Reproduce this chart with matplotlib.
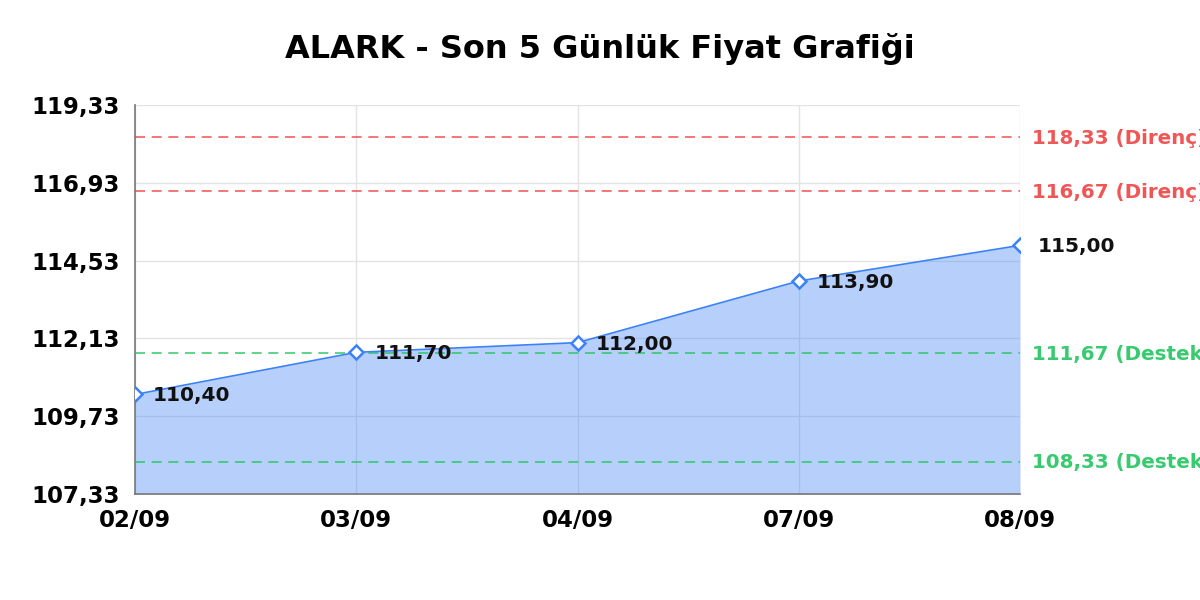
import matplotlib
matplotlib.use("Agg")
import matplotlib.pyplot as plt

# donnees du graphique
dates = ["02/09", "03/09", "04/09", "07/09", "08/09"]
fiyat = [110.40, 111.70, 112.00, 113.90, 115.00]
direnc = [118.33, 116.67]
destek = [111.67, 108.33]
y_ticks = [107.33, 109.73, 112.13, 114.53, 116.93, 119.33]

def virgul(v):
    return ("%.2f" % v).replace(".", ",")

plt.rcParams['font.family'] = ['DejaVu Sans']
fig = plt.figure(figsize=(12, 6), dpi=100)
ax = fig.add_axes([135/1200, 1-494/600, (1020-135)/1200, (494-105)/600])

x = list(range(len(dates)))
ax.fill_between(x, fiyat, y_ticks[0], color="#3b82f6", alpha=0.37, linewidth=0, zorder=2)
ax.plot(x, fiyat, color="#3b82f6", linewidth=1.2, marker="D", markersize=7.5,
        markerfacecolor="white", markeredgecolor="#3b82f6", markeredgewidth=1.8, zorder=5)

for xi, v in zip(x, fiyat):
    ax.annotate(virgul(v), (xi, v), xytext=(13, -1), textcoords="offset points",
                va="center", ha="left", fontsize=14.5, fontweight="bold", color="#111111", zorder=6)

# lignes de direnc / destek, etiquettes coupees au bord comme l'original
for v in direnc:
    ax.axhline(v, color="#ef4444", linestyle=(0, (6, 4)), linewidth=1.2, alpha=0.85, zorder=3)
    ax.annotate(virgul(v) + " (Direnç)", (4, v), xytext=(9, -1), textcoords="offset points",
                va="center", ha="left", fontsize=14.3, fontweight="bold", color="#ef4444",
                alpha=0.9, annotation_clip=False)
for v in destek:
    ax.axhline(v, color="#22c55e", linestyle=(0, (6, 4)), linewidth=1.2, alpha=0.85, zorder=3)
    ax.annotate(virgul(v) + " (Destek)", (4, v), xytext=(9, -1), textcoords="offset points",
                va="center", ha="left", fontsize=14.3, fontweight="bold", color="#22c55e",
                alpha=0.9, annotation_clip=False)

ax.set_xlim(0, 4)
ax.set_ylim(y_ticks[0], y_ticks[-1])
ax.set_xticks(x)
ax.set_xticklabels(dates, fontsize=16.5, fontweight="bold")
ax.set_yticks(y_ticks)
ax.set_yticklabels([virgul(v) for v in y_ticks], fontsize=16.5, fontweight="bold")
ax.tick_params(axis="both", length=0)
ax.tick_params(axis="y", pad=11)
ax.tick_params(axis="x", pad=11)
ax.grid(True, color="#e3e3e3", linewidth=1, zorder=0)
ax.set_axisbelow(True)
for s in ["top", "right"]:
    ax.spines[s].set_visible(False)
for s in ["left", "bottom"]:
    ax.spines[s].set_color("#777777")
    ax.spines[s].set_linewidth(1.2)

fig.text(0.5, 1-49/600, "ALARK - Son 5 Günlük Fiyat Grafiği", ha="center", va="center",
         fontsize=23, fontweight="bold")

fig.savefig("out.png", dpi=100)
